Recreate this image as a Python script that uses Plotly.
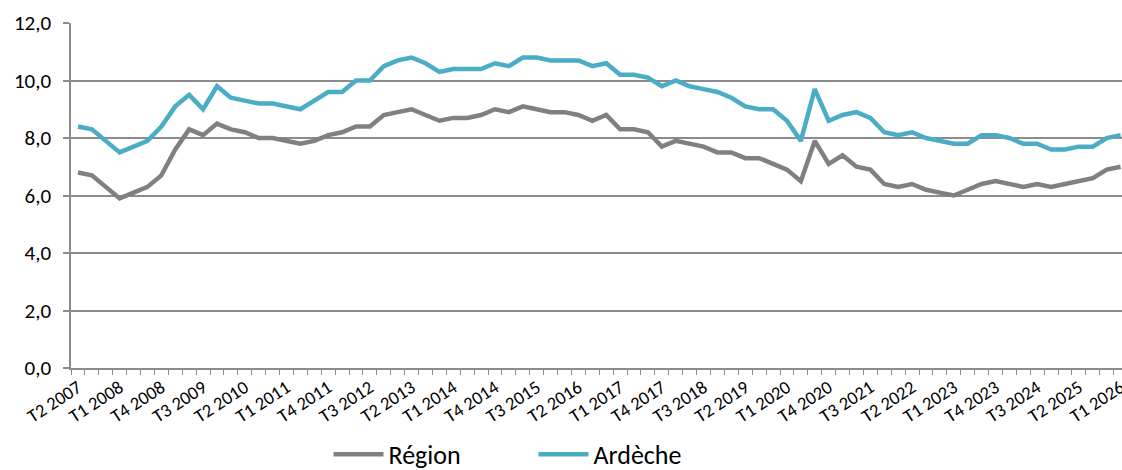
import plotly.graph_objects as go

# Quarterly categories T2 2007 .. T1 2026
quarters = []
for year in range(2007, 2027):
    for q in range(1, 5):
        if (year == 2007 and q < 2) or (year == 2026 and q > 1):
            continue
        quarters.append(f"T{q} {year}")

region = [6.8, 6.7, 6.3, 5.9, 6.1, 6.3, 6.7, 7.6, 8.3, 8.1, 8.5, 8.3, 8.2, 8.0, 8.0, 7.9,
          7.8, 7.9, 8.1, 8.2, 8.4, 8.4, 8.8, 8.9, 9.0, 8.8, 8.6, 8.7, 8.7, 8.8, 9.0, 8.9,
          9.1, 9.0, 8.9, 8.9, 8.8, 8.6, 8.8, 8.3, 8.3, 8.2, 7.7, 7.9, 7.8, 7.7, 7.5, 7.5,
          7.3, 7.3, 7.1, 6.9, 6.5, 7.9, 7.1, 7.4, 7.0, 6.9, 6.4, 6.3, 6.4, 6.2, 6.1, 6.0,
          6.2, 6.4, 6.5, 6.4, 6.3, 6.4, 6.3, 6.4, 6.5, 6.6, 6.9, 7.0]

ardeche = [8.4, 8.3, 7.9, 7.5, 7.7, 7.9, 8.4, 9.1, 9.5, 9.0, 9.8, 9.4, 9.3, 9.2, 9.2, 9.1,
           9.0, 9.3, 9.6, 9.6, 10.0, 10.0, 10.5, 10.7, 10.8, 10.6, 10.3, 10.4, 10.4, 10.4, 10.6, 10.5,
           10.8, 10.8, 10.7, 10.7, 10.7, 10.5, 10.6, 10.2, 10.2, 10.1, 9.8, 10.0, 9.8, 9.7, 9.6, 9.4,
           9.1, 9.0, 9.0, 8.6, 7.9, 9.7, 8.6, 8.8, 8.9, 8.7, 8.2, 8.1, 8.2, 8.0, 7.9, 7.8,
           7.8, 8.1, 8.1, 8.0, 7.8, 7.8, 7.6, 7.6, 7.7, 7.7, 8.0, 8.1]

tick_text = [q if i % 3 == 0 else "" for i, q in enumerate(quarters)]

FONT = "Carlito, Lato, 'Open Sans', sans-serif"
GRID = "#8c8c8c"

fig = go.Figure()
fig.add_trace(go.Scatter(x=quarters, y=region, name="Région", mode="lines",
                         line=dict(color="#808080", width=4.5)))
fig.add_trace(go.Scatter(x=quarters, y=ardeche, name="Ardèche", mode="lines",
                         line=dict(color="#4bacc6", width=4.5)))

fig.update_layout(
    width=1122, height=470,
    margin=dict(l=71, r=0, t=23, b=102, autoexpand=False),
    paper_bgcolor="white", plot_bgcolor="white",
    separators=", ",
    font=dict(family=FONT, color="black"),
    showlegend=True,
    legend=dict(orientation="h", x=0.245, xanchor="left", y=-0.25, yanchor="middle",
                font=dict(size=26, family=FONT, color="black"), itemwidth=50,
                entrywidth=140, entrywidthmode="pixels",
                bgcolor="rgba(0,0,0,0)"),
    xaxis=dict(type="category", range=[-0.5, 75.1], automargin=False,
               tickmode="array", tickvals=quarters, ticktext=tick_text,
               tickson="boundaries", ticks="outside", ticklen=5, tickcolor=GRID, tickwidth=1,
               tickangle=-33, tickfont=dict(size=18.5, family=FONT, color="black"),
               showgrid=False, showline=True, linecolor=GRID, linewidth=1.5, zeroline=False),
    yaxis=dict(range=[0, 12], dtick=2, tickformat=".1f", automargin=False,
               ticks="outside", ticklen=6, tickcolor=GRID, tickwidth=1.5,
               ticklabelstandoff=8,
               tickfont=dict(size=21, family=FONT, color="black"),
               showgrid=True, gridcolor=GRID, gridwidth=1.5,
               showline=True, linecolor=GRID, linewidth=1.5, zeroline=False),
)

fig.write_html("out.html", config={"displayModeBar": False},
               post_script="document.body.style.margin='0';document.body.style.overflow='hidden';")
